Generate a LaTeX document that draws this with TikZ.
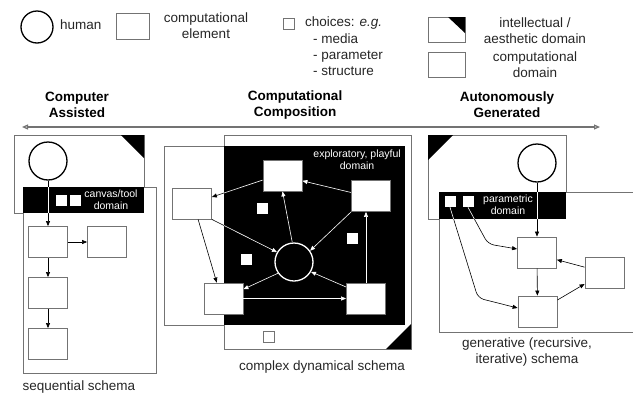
\documentclass[tikz,border=0pt]{standalone}
\usepackage{fontspec}
\setmainfont{Liberation Sans}
\usetikzlibrary{arrows.meta}

% all connectors of the three schemas, in one colour
\newcommand{\schemalinks}[1]{%
  % sequential
  \draw[link, #1] (hum_l) -- (el1_l);
  \draw[link, #1] (el1_l) -- (el2_l);
  \draw[link, #1] (el1_l) -- (el3_l);
  \draw[link, #1] (el3_l) -- (el4_l);
  % complex dynamical
  \draw[link, #1] (rgt_c.170) -- (top_c.-15);
  \draw[link, #1] (top_c.-167) -- (lft_c.18);
  \draw[link, #1] (lft_c.south east) -- (hum_c.150);
  \draw[link, #1] (lft_c.-69) -- (bl_c.113);
  \draw[link, #1] (hum_c.95) -- (top_c.south);
  \draw[link, #1] (rgt_c.south west) -- (hum_c.35);
  \draw[link, #1] (hum_c.-145) -- (bl_c.25);
  \draw[link, #1] (br_c.150) -- (hum_c.-30);
  \draw[link, #1] (bl_c) -- (br_c);
  \draw[link, #1] (br_c.north) -- (br_c.north |- rgt_c.south);
  % generative
  \draw[link, #1] (hum_r) -- (p1_r);
  \draw[link, #1] (p1_r) -- (p2_r);
  \draw[link, #1] (p3_r.165) -- (p1_r.-20);
  \draw[link, #1] (p2_r.30) -- (p3_r.-150);
  \draw[link, #1, rounded corners=6pt] (ch1_r.south) -- (478,298) -- (p2_r.170);
  \draw[link, #1, rounded corners=6pt] (ch2_r.south) -- (488,244) -- (p1_r.170);
}

\begin{document}
\begin{tikzpicture}[x=1pt, y=-1pt, >={Triangle[length=5pt,width=4pt]},
		font=\fontsize{13.5}{16}\selectfont,
		human/.style={circle, draw=black, line width=1.3pt, fill=white, minimum size=38pt, inner sep=0pt},
		elem/.style={rectangle, draw=black!55, line width=0.8pt, fill=white, minimum width=39pt, minimum height=31pt, inner sep=0pt},
		choice/.style={rectangle, draw=black!55, line width=0.6pt, fill=white, minimum size=11pt, inner sep=0pt},
		areabox/.style={rectangle, draw=black!55, line width=0.8pt, fill=white, inner sep=0pt, outer sep=0pt},
		band/.style={fill=black},
		bandtext/.style={text=white, align=center, inner sep=0pt, font=\fontsize{10.5}{12}\selectfont},
		txt/.style={align=center, text=black!85, inner sep=0pt},
		heading/.style={align=center, inner sep=0pt, font=\fontsize{13.5}{16}\selectfont\bfseries},
		axis/.style={{Triangle[open,length=6pt,width=5pt]}-{Triangle[open,length=6pt,width=5pt]}, draw=black!55, line width=1.2pt},
		link/.style={->, line width=0.6pt}]
		
		\useasboundingbox (0,0) rectangle (633,397);
		
		% Legend
		\node[human, minimum size=32pt] (lg_human) at (37,27) {};
		\node[txt, anchor=west] (lg_human_t) at (60,25) {human};
		\node[elem, minimum width=33pt, minimum height=26pt] (lg_elem) at (132.5,26) {};
		\node[txt] (lg_elem_t) at (206,26) {computational\\element};
		\node[choice] (lg_choice) at (288.5,23.5) {};
		\node[txt, anchor=west] (lg_choice_t) at (305,23) {choices: \textit{e.g.}};
		\node[txt, anchor=west, align=left] (lg_choice_l) at (313,55) {- media\\- parameter\\- structure};
		\node[areabox, minimum width=37pt, minimum height=25pt] (lg_intel) at (446.5,29.5) {};
		\fill (lg_intel.north east) -- ++(-17,0) -- ++(17,16) -- cycle;
		\node[txt] (lg_intel_t) at (535,31) {intellectual /\\aesthetic domain};
		\node[areabox, minimum width=37pt, minimum height=25pt] (lg_comp) at (446.5,64.5) {};
		\node[txt] (lg_comp_t) at (535,65) {computational\\domain};
		
		% Titles and axis
		\node[heading] (t_assist) at (77,105) {Computer\\Assisted};
		\node[heading] (t_compo) at (295,105) {Computational\\Composition};
		\node[heading] (t_auto) at (507,105) {Autonomously\\Generated};
		\coordinate (ax_l) at (22,127);
		\coordinate (ax_r) at (600,127);
		\draw[axis] (ax_l) -- (ax_r);
		
		% Computer Assisted
		\node[areabox, minimum width=130pt, minimum height=78pt] (intel_l) at (79,174) {};
		\fill (intel_l.north east) -- ++(-23,0) -- ++(23,23) -- cycle;
		\node[areabox, minimum width=133pt, minimum height=186pt] (comp_l) at (89.5,280) {};
		\fill[band] (comp_l.north west) rectangle (intel_l.south east);
		\node[choice, draw=none] (ch1_l) at (61,200) {};
		\node[choice, draw=none] (ch2_l) at (75,200) {};
		\node[bandtext] (band_l_t) at (111,200) {canvas/tool\\domain};
		\node[human] (hum_l) at (48,161) {};
		\node[elem] (el1_l) at (48,242) {};
		\node[elem] (el2_l) at (107,242) {};
		\node[elem] (el3_l) at (48,293) {};
		\node[elem] (el4_l) at (48,344) {};
		\node[txt] (cap_l) at (79,387) {sequential schema};
		
		% Computational Composition
		\node[areabox, minimum width=241pt, minimum height=179pt] (comp_c) at (284.5,235.5) {};
		\node[areabox, minimum width=187pt, minimum height=214pt] (intel_c) at (317.5,242) {};
		\fill[band] (intel_c.north west |- comp_c.north) rectangle (comp_c.south east);
		\fill (intel_c.south east) -- ++(-25,0) -- ++(25,-25) -- cycle;
		\node[bandtext, anchor=east] (band_c_t) at (401,160) {exploratory, playful\\domain};
		\node[elem] (top_c) at (282.5,175.5) {};
		\node[elem] (rgt_c) at (371,196) {};
		\node[elem] (lft_c) at (192,203.5) {};
		\node[human, draw=white, fill=black] (hum_c) at (294,262) {};
		\node[elem] (bl_c) at (223.5,298.5) {};
		\node[elem] (br_c) at (366,298.5) {};
		\node[choice, draw=none] (ch1_c) at (262,208.5) {};
		\node[choice, draw=none] (ch2_c) at (246,259) {};
		\node[choice, draw=none] (ch3_c) at (352,238.5) {};
		\node[choice] (ch4_c) at (269,337) {};
		\node[txt] (cap_c) at (322,367) {complex dynamical schema};
		
		% Autonomously Generated
		\node[areabox, minimum width=138pt, minimum height=84pt] (intel_r) at (497,177) {};
		\fill (intel_r.north west) -- ++(25,0) -- ++(-25,25) -- cycle;
		\node[areabox, minimum width=206pt, minimum height=140pt] (comp_r) at (542,262) {};
		\fill[band] (comp_r.north west) rectangle (intel_r.south east);
		\node[choice, draw=none] (ch1_r) at (450,201.5) {};
		\node[choice, draw=none] (ch2_r) at (468,201.5) {};
		\node[bandtext] (band_r_t) at (508,205) {parametric\\domain};
		\node[human] (hum_r) at (537,163) {};
		\node[elem] (p1_r) at (537,252.5) {};
		\node[elem] (p2_r) at (537.5,311.5) {};
		\node[elem] (p3_r) at (604.5,272.5) {};
		\node[txt] (cap_r) at (527,352) {generative (recursive,\\iterative) schema};
		
		% Links, white where they cross a black domain
		\schemalinks{black}
		\begin{scope}
			\clip (comp_l.north west) rectangle (intel_l.south east)
				(intel_c.north west |- comp_c.north) rectangle (comp_c.south east)
				(comp_r.north west) rectangle (intel_r.south east);
			\schemalinks{white}
		\end{scope}
		
	\end{tikzpicture}
\end{document}
